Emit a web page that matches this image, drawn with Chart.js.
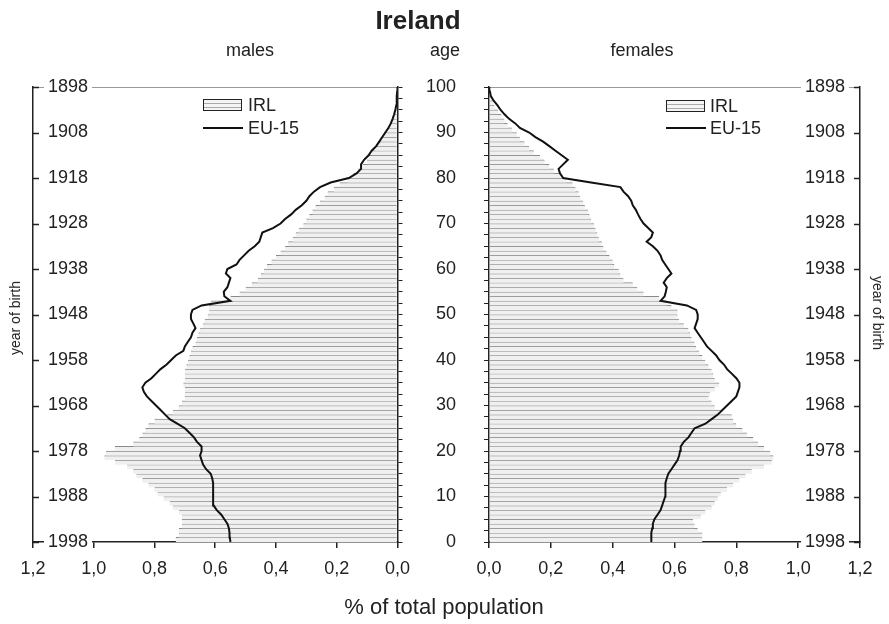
<!DOCTYPE html>
<html>
<head>
<meta charset="utf-8">
<script src="https://cdn.jsdelivr.net/npm/chart.js@4.4.1/dist/chart.umd.min.js"></script>
<style>
  body { margin: 0; background: #fff; font-family: "Liberation Sans", Arial, sans-serif; color: #222; }
  #wrap { position: relative; width: 889px; height: 624px; overflow: hidden; }
  canvas { position: absolute; top: 0; }
  .c { position: absolute; white-space: nowrap; transform: translate(-50%, -50%); }
  .l { position: absolute; white-space: nowrap; transform: translateY(-50%); font-size: 18px; }
  .box { position: absolute; width: 37px; height: 10px; border: 1.5px solid #222;
         background: repeating-linear-gradient(#f4f4f4 0 3px, #aaa 3px 4px); }
  .line { position: absolute; width: 40px; height: 2px; background: #111; }
</style>
</head>
<body>
<div id="wrap">
  <canvas id="left" width="420" height="600" style="left:0"></canvas>
  <canvas id="right" width="469" height="600" style="left:420px"></canvas>

  <div class="c" style="left:418px; top:20px; font-size:26px; font-weight:bold;">Ireland</div>
  <div class="c" style="left:250px; top:50px; font-size:18px;">males</div>
  <div class="c" style="left:445px; top:50px; font-size:18px;">age</div>
  <div class="c" style="left:642px; top:50px; font-size:18px;">females</div>
  <div class="c" style="left:444px; top:607px; font-size:22px;">% of total population</div>
  <div class="c" style="left:15px; top:318px; font-size:14px; transform: translate(-50%, -50%) rotate(-90deg);">year of birth</div>
  <div class="c" style="left:878px; top:313px; font-size:14px; transform: translate(-50%, -50%) rotate(90deg);">year of birth</div>

  <div class="box" style="left:203px; top:99px;"></div>
  <div class="l" style="left:248px; top:105px;">IRL</div>
  <div class="line" style="left:203px; top:127px;"></div>
  <div class="l" style="left:248px; top:128px;">EU-15</div>

  <div class="box" style="left:666px; top:100px;"></div>
  <div class="l" style="left:710px; top:106px;">IRL</div>
  <div class="line" style="left:666px; top:127px;"></div>
  <div class="l" style="left:710px; top:128px;">EU-15</div>
</div>

<script>
// age in completed years (0 = born 1998)
const ages = [
  0, 1, 2, 3, 4, 5, 6, 7, 8, 9,
  10, 11, 12, 13, 14, 15, 16, 17, 18, 19,
  20, 21, 22, 23, 24, 25, 26, 27, 28, 29,
  30, 31, 32, 33, 34, 35, 36, 37, 38, 39,
  40, 41, 42, 43, 44, 45, 46, 47, 48, 49,
  50, 51, 52, 53, 54, 55, 56, 57, 58, 59,
  60, 61, 62, 63, 64, 65, 66, 67, 68, 69,
  70, 71, 72, 73, 74, 75, 76, 77, 78, 79,
  80, 81, 82, 83, 84, 85, 86, 87, 88, 89,
  90, 91, 92, 93, 94, 95, 96, 97, 98, 99,
  100
];

const ageTicks = [0, 10, 20, 30, 40, 50, 60, 70, 80, 90, 100];
const birthYears = [1998, 1988, 1978, 1968, 1958, 1948, 1938, 1928, 1918, 1908, 1898];

// IRL, % of total population, ages 0..99
const maleIRL = [
  0.73, 0.72, 0.72, 0.71, 0.71, 0.71, 0.72, 0.74, 0.75, 0.77,
  0.79, 0.80, 0.82, 0.84, 0.86, 0.87, 0.89, 0.93, 0.965, 0.96,
  0.93, 0.87, 0.85, 0.84, 0.83, 0.82, 0.80, 0.76, 0.74, 0.72,
  0.71, 0.70, 0.70, 0.70, 0.705, 0.70, 0.70, 0.70, 0.695, 0.69,
  0.685, 0.68, 0.675, 0.665, 0.66, 0.655, 0.65, 0.64, 0.635, 0.625,
  0.62, 0.62, 0.615, 0.55, 0.52, 0.50, 0.48, 0.46, 0.45, 0.44,
  0.43, 0.415, 0.40, 0.385, 0.37, 0.36, 0.345, 0.335, 0.325, 0.31,
  0.30, 0.29, 0.28, 0.27, 0.255, 0.24, 0.23, 0.21, 0.19, 0.165,
  0.145, 0.13, 0.115, 0.10, 0.095, 0.085, 0.075, 0.065, 0.055, 0.045,
  0.035, 0.025, 0.018, 0.012, 0.008, 0.005, 0.003, 0.002, 0.001, 0.001
];
const femaleIRL = [
  0.69, 0.69, 0.675, 0.665, 0.66, 0.685, 0.70, 0.72, 0.73, 0.74,
  0.75, 0.77, 0.79, 0.81, 0.83, 0.85, 0.89, 0.915, 0.92, 0.91,
  0.89, 0.87, 0.855, 0.835, 0.82, 0.80, 0.79, 0.785, 0.75, 0.73,
  0.72, 0.71, 0.715, 0.73, 0.745, 0.73, 0.725, 0.72, 0.71, 0.70,
  0.69, 0.68, 0.67, 0.665, 0.655, 0.65, 0.645, 0.63, 0.615, 0.61,
  0.61, 0.59, 0.575, 0.55, 0.50, 0.48, 0.465, 0.435, 0.425, 0.42,
  0.405, 0.40, 0.39, 0.38, 0.37, 0.365, 0.355, 0.35, 0.345, 0.34,
  0.33, 0.325, 0.32, 0.31, 0.305, 0.295, 0.29, 0.28, 0.27, 0.25,
  0.23, 0.21, 0.195, 0.18, 0.165, 0.145, 0.13, 0.115, 0.10, 0.09,
  0.075, 0.06, 0.05, 0.04, 0.03, 0.018, 0.012, 0.008, 0.005, 0.003
];

// EU-15, ages 0..100
const maleEU = [
  0.55, 0.552, 0.553, 0.555, 0.56, 0.57, 0.58, 0.595, 0.605, 0.607,
  0.607, 0.607, 0.607, 0.607, 0.61, 0.615, 0.63, 0.64, 0.645, 0.65,
  0.645, 0.645, 0.66, 0.67, 0.685, 0.70, 0.725, 0.75, 0.765, 0.78,
  0.795, 0.81, 0.825, 0.835, 0.84, 0.83, 0.81, 0.795, 0.78, 0.76,
  0.745, 0.73, 0.705, 0.70, 0.69, 0.68, 0.675, 0.665, 0.672, 0.68,
  0.68, 0.675, 0.645, 0.55, 0.57, 0.572, 0.56, 0.555, 0.55, 0.565,
  0.56, 0.53, 0.52, 0.505, 0.49, 0.47, 0.455, 0.45, 0.445, 0.41,
  0.385, 0.37, 0.35, 0.335, 0.315, 0.30, 0.29, 0.275, 0.255, 0.22,
  0.16, 0.135, 0.12, 0.12, 0.11, 0.095, 0.085, 0.07, 0.06, 0.05,
  0.04, 0.03, 0.022, 0.016, 0.011, 0.007, 0.004, 0.003, 0.002, 0.001,
  0.0
];
const femaleEU = [
  0.525, 0.525, 0.525, 0.528, 0.53, 0.535, 0.545, 0.555, 0.56, 0.565,
  0.57, 0.57, 0.57, 0.572, 0.575, 0.58, 0.59, 0.60, 0.61, 0.615,
  0.618, 0.62, 0.63, 0.645, 0.655, 0.665, 0.70, 0.72, 0.74, 0.755,
  0.77, 0.785, 0.80, 0.805, 0.81, 0.81, 0.80, 0.785, 0.77, 0.76,
  0.745, 0.735, 0.72, 0.705, 0.695, 0.685, 0.675, 0.665, 0.67, 0.675,
  0.675, 0.67, 0.64, 0.555, 0.568, 0.572, 0.575, 0.565, 0.575, 0.59,
  0.58, 0.57, 0.56, 0.555, 0.545, 0.53, 0.51, 0.525, 0.53, 0.515,
  0.50, 0.49, 0.482, 0.475, 0.465, 0.46, 0.45, 0.435, 0.425, 0.33,
  0.24, 0.23, 0.225, 0.24, 0.255, 0.235, 0.215, 0.195, 0.175, 0.15,
  0.13, 0.10, 0.085, 0.065, 0.05, 0.037, 0.027, 0.015, 0.006, 0.003,
  0.001
];

const barFill = '#f0f0f0';
const barLine = '#8a8a8a';
const ink = '#222';

// bar for age a covers the year band [a, a+1]
function barPoints(values) {
  return values.map((v, i) => ({ x: v, y: ages[i] + 0.5 }));
}
function linePoints(values) {
  return values.map((v, i) => ({ x: v, y: ages[i] }));
}
function fmt(v) {
  return Number(v).toFixed(1).replace('.', ',');
}
function yearOf(v) {
  const k = ageTicks.indexOf(Math.round(v));
  return k >= 0 ? String(birthYears[k]) : '';
}

// short tick marks pointing into the plot on the year axis
const innerTicks = {
  id: 'innerTicks',
  afterDraw(chart, args, opts) {
    const s = chart.scales[opts.axis];
    const ctx = chart.ctx;
    const x0 = opts.side === 'left' ? chart.chartArea.left : chart.chartArea.right;
    const dx = opts.side === 'left' ? 6 : -6;
    ctx.save();
    ctx.strokeStyle = ink;
    ctx.lineWidth = 1.5;
    s.ticks.forEach(t => {
      const y = Math.round(s.getPixelForValue(t.value)) + 0.5;
      ctx.beginPath();
      ctx.moveTo(x0, y);
      ctx.lineTo(x0 + dx, y);
      ctx.stroke();
    });
    ctx.restore();
  }
};

function datasets(irl, eu) {
  return [
    {
      type: 'bar',
      label: 'IRL',
      data: barPoints(irl),
      xAxisID: 'x',
      yAxisID: 'yAge',
      indexAxis: 'y',
      backgroundColor: barFill,
      borderColor: barLine,
      borderWidth: { top: 1, right: 0, bottom: 0, left: 0 },
      borderSkipped: false,
      barPercentage: 1,
      categoryPercentage: 1,
      order: 2
    },
    {
      type: 'line',
      label: 'EU-15',
      data: linePoints(eu),
      xAxisID: 'x',
      yAxisID: 'yAge',
      indexAxis: 'y',
      borderColor: '#111',
      borderWidth: 2,
      pointRadius: 0,
      tension: 0,
      fill: false,
      order: 1
    }
  ];
}

function xScale(reverse) {
  return {
    type: 'linear',
    position: 'bottom',
    reverse: reverse,
    min: 0,
    max: 1.2,
    ticks: { stepSize: 0.2, callback: v => fmt(v), color: ink, font: { size: 18 }, padding: 10 },
    grid: { drawOnChartArea: false, drawTicks: true, tickLength: 6, color: ink, lineWidth: 1.5 },
    border: { display: true, color: ink, width: 1.5 },
    afterFit: s => { s.height = 58; }
  };
}

// mirrored year labels; on a right-hand axis Chart.js measures the padding from the axis line outward
function yearScale(position, width, pad) {
  return {
    type: 'linear',
    position: position,
    min: 0,
    max: 100,
    offset: false,
    ticks: {
      stepSize: 10,
      mirror: true,
      padding: pad,
      callback: v => yearOf(v),
      color: ink,
      font: { size: 18 },
      showLabelBackdrop: true,
      backdropColor: '#fff',
      backdropPadding: { top: 0, bottom: 0, left: 4, right: 4 }
    },
    grid: {
      offset: false,
      drawTicks: false,
      color: c => (c.tick && c.tick.value === 100) ? '#999' : 'rgba(0,0,0,0)',
      lineWidth: 1
    },
    border: { display: true, color: ink, width: 1.5 },
    afterFit: s => { s.width = width; }
  };
}

function ageScale(position, width, labels) {
  return {
    type: 'linear',
    position: position,
    min: 0,
    max: 100,
    offset: false,
    ticks: {
      stepSize: 2.5,
      autoSkip: false,
      display: labels,
      padding: 28,
      color: ink,
      font: { size: 18 },
      callback: v => (v % 10 === 0 ? String(v) : '')
    },
    grid: { offset: false, drawOnChartArea: false, drawTicks: true, tickLength: 5, color: ink, lineWidth: 1 },
    border: { display: true, color: ink, width: 1.5 },
    afterFit: s => { s.width = width; }
  };
}

new Chart(document.getElementById('left'), {
  type: 'bar',
  data: { datasets: datasets(maleIRL, maleEU) },
  options: {
    indexAxis: 'y',
    responsive: false,
    animation: false,
    layout: { padding: { top: 87, left: 0, right: 0, bottom: 0 } },
    plugins: {
      legend: { display: false },
      tooltip: { enabled: false },
      innerTicks: { axis: 'yYear', side: 'left' }
    },
    scales: {
      x: xScale(true),
      yYear: yearScale('left', 33, 15),
      yAge: ageScale('right', 19, false)
    }
  },
  plugins: [innerTicks]
});

new Chart(document.getElementById('right'), {
  type: 'bar',
  data: { datasets: datasets(femaleIRL, femaleEU) },
  options: {
    indexAxis: 'y',
    responsive: false,
    animation: false,
    layout: { padding: { top: 87, left: 0, right: 0, bottom: 0 } },
    plugins: {
      legend: { display: false },
      tooltip: { enabled: false },
      innerTicks: { axis: 'yYear', side: 'right' }
    },
    scales: {
      x: xScale(false),
      yAge: ageScale('left', 69, true),
      yYear: yearScale('right', 29, -15)
    }
  },
  plugins: [innerTicks]
});
</script>
</body>
</html>
